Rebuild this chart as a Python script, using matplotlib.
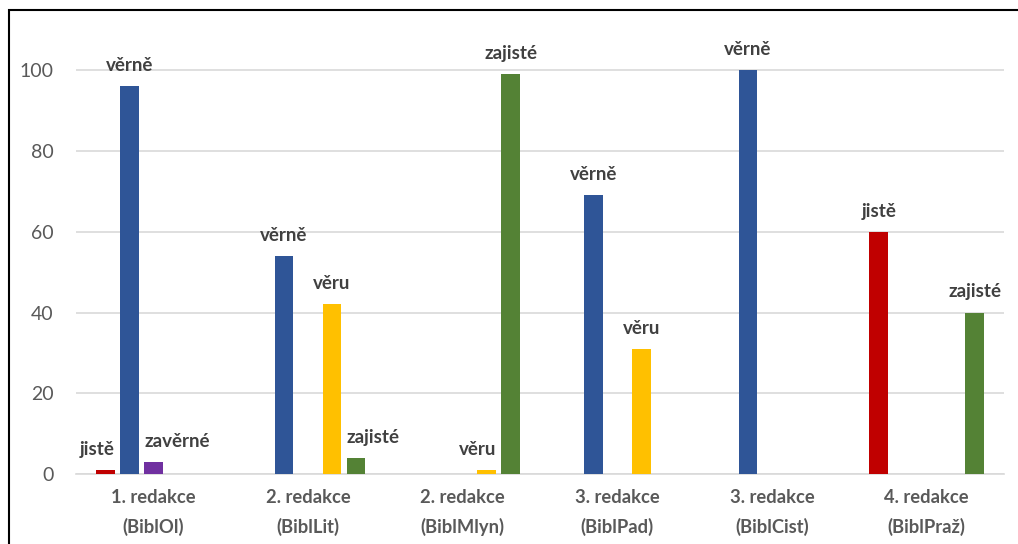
import matplotlib.pyplot as plt
from matplotlib.patches import Rectangle
import numpy as np

plt.rcParams['font.family'] = ['Lato', 'DejaVu Sans']

# Data: share of each particle per edition (percent)
groups = ["1. redakce\n(BiblOl)", "2. redakce\n(BiblLit)", "2. redakce\n(BiblMlyn)",
          "3. redakce\n(BiblPad)", "3. redakce\n(BiblCist)", "4. redakce\n(BiblPraž)"]
series_names = ["jistě", "věrně", "zavěrné", "věru", "zajisté"]
jiste = [1, 0, 0, 0, 0, 60]
verne = [96, 54, 0, 69, 100, 0]
zaverne = [3, 0, 0, 0, 0, 0]
veru = [0, 42, 1, 31, 0, 0]
zajiste = [0, 4, 99, 0, 0, 40]
all_series = [jiste, verne, zaverne, veru, zajiste]

colors = ["#C00000", "#2F5597", "#7030A0", "#FFC000", "#548235"]

# a few labels on tiny bars are nudged sideways so they don't collide
label_align = {(0, 0): "right", (0, 2): "left", (1, 4): "left", (2, 3): "right"}

fig = plt.figure(figsize=(10.18, 5.44), dpi=100)
ax = fig.add_axes([0.0747, 0.1287, 0.9116, 0.8162])

x = np.arange(len(groups))
slot = 0.155
width = 0.12

for s, (name, vals, col) in enumerate(zip(series_names, all_series, colors)):
    pos = x + (s - 2) * slot
    ax.bar(pos, vals, width=width, color=col, zorder=3)
    for g, v in enumerate(vals):
        if v == 0:
            continue
        ha = label_align.get((g, s), "center")
        if ha == "left":
            xt = pos[g] - width / 2
        elif ha == "right":
            xt = pos[g] + width / 2
        else:
            xt = pos[g]
        ax.annotate(name, (xt, v), xytext=(0, 11), textcoords="offset points",
                    ha=ha, va="baseline", fontsize=13.5, fontweight="bold",
                    color="#404040")

ax.set_xlim(-0.5, len(groups) - 0.5)
ax.set_ylim(0, 110)
ax.set_yticks(range(0, 101, 20))
ax.yaxis.grid(True, color="#D9D9D9", linewidth=1.2, zorder=0)
ax.set_axisbelow(True)
for sp in ["top", "right", "left"]:
    ax.spines[sp].set_visible(False)
ax.spines["bottom"].set_color("#D9D9D9")
ax.spines["bottom"].set_linewidth(1.2)

ax.set_xticks(x)
ax.set_xticklabels(groups, fontsize=13.2, fontweight="bold", color="#595959",
                   linespacing=1.75)
ax.tick_params(axis="x", length=0, pad=11)
ax.tick_params(axis="y", length=0, pad=16, labelsize=14, labelcolor="#595959")

# outer frame of the chart area
fig.patches.append(Rectangle((9 / 1018, -0.05), 1.1, 1 - 10 / 544 + 0.05,
                             transform=fig.transFigure, fill=False,
                             edgecolor="black", linewidth=1.5))

fig.savefig("out.png", dpi=100)
